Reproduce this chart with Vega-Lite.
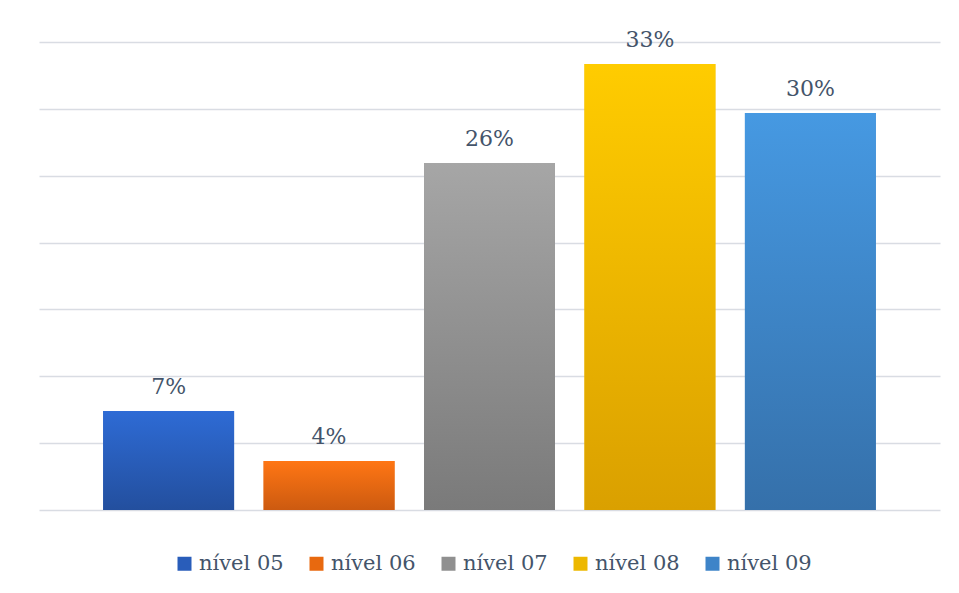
{
  "$schema": "https://vega.github.io/schema/vega-lite/v6.json",
  "width": 901,
  "height": 468,
  "autosize": "none",
  "padding": {"left": 39, "top": 42, "right": 19, "bottom": 83},
  "background": "white",
  "config": {"view": {"stroke": null}},
  "data": {
    "values": [
      {"nivel": "nível 05", "valor": 0.074},
      {"nivel": "nível 06", "valor": 0.0366},
      {"nivel": "nível 07", "valor": 0.2595},
      {"nivel": "nível 08", "valor": 0.3335},
      {"nivel": "nível 09", "valor": 0.2969}
    ]
  },
  "encoding": {
    "x": {
      "field": "nivel", "type": "nominal", "sort": null, "axis": null,
      "scale": {"paddingInner": 0.184, "paddingOuter": 0.4}
    },
    "y": {
      "field": "valor", "type": "quantitative",
      "scale": {"domain": [0, 0.35], "nice": false},
      "axis": {
        "title": null, "labels": false, "ticks": false, "domain": false,
        "values": [0, 0.05, 0.1, 0.15, 0.2, 0.25, 0.3, 0.35],
        "gridColor": "#D9DCE3", "gridWidth": 1.5
      }
    }
  },
  "layer": [
    {
      "mark": {"type": "bar"},
      "encoding": {
        "color": {
          "field": "nivel", "type": "nominal",
          "scale": {
            "domain": ["nível 05", "nível 06", "nível 07", "nível 08", "nível 09"],
            "range": ["#295DBA", "#E8690F", "#909090", "#EDB800", "#3E84C8"]
          },
          "legend": {
            "orient": "none", "legendX": 135, "legendY": 511,
            "direction": "horizontal", "title": null,
            "symbolType": "square", "symbolSize": 196, "symbolStrokeWidth": 0,
            "labelFont": "DejaVu Serif", "labelFontSize": 21, "labelColor": "#44546A",
            "labelOffset": 4, "columnPadding": 22
          }
        }
      }
    },
    {
      "transform": [{"filter": "datum.nivel === 'nível 05'"}],
      "mark": {"type": "bar", "fill": {"gradient": "linear", "x1": 0, "y1": 0, "x2": 0, "y2": 1, "stops": [{"offset": 0, "color": "#2E6BD5"}, {"offset": 1, "color": "#234F9E"}]}}
    },
    {
      "transform": [{"filter": "datum.nivel === 'nível 06'"}],
      "mark": {"type": "bar", "fill": {"gradient": "linear", "x1": 0, "y1": 0, "x2": 0, "y2": 1, "stops": [{"offset": 0, "color": "#FF7614"}, {"offset": 1, "color": "#CC5A10"}]}}
    },
    {
      "transform": [{"filter": "datum.nivel === 'nível 07'"}],
      "mark": {"type": "bar", "fill": {"gradient": "linear", "x1": 0, "y1": 0, "x2": 0, "y2": 1, "stops": [{"offset": 0, "color": "#A6A6A6"}, {"offset": 1, "color": "#7A7A7A"}]}}
    },
    {
      "transform": [{"filter": "datum.nivel === 'nível 08'"}],
      "mark": {"type": "bar", "fill": {"gradient": "linear", "x1": 0, "y1": 0, "x2": 0, "y2": 1, "stops": [{"offset": 0, "color": "#FFCC00"}, {"offset": 1, "color": "#DAA000"}]}}
    },
    {
      "transform": [{"filter": "datum.nivel === 'nível 09'"}],
      "mark": {"type": "bar", "fill": {"gradient": "linear", "x1": 0, "y1": 0, "x2": 0, "y2": 1, "stops": [{"offset": 0, "color": "#4699E2"}, {"offset": 1, "color": "#3570AA"}]}}
    },
    {
      "mark": {"type": "text", "baseline": "alphabetic", "dy": -17, "font": "DejaVu Serif", "fontSize": 22, "color": "#44546A"},
      "encoding": {"text": {"field": "valor", "type": "quantitative", "format": ".0%"}}
    }
  ]
}
